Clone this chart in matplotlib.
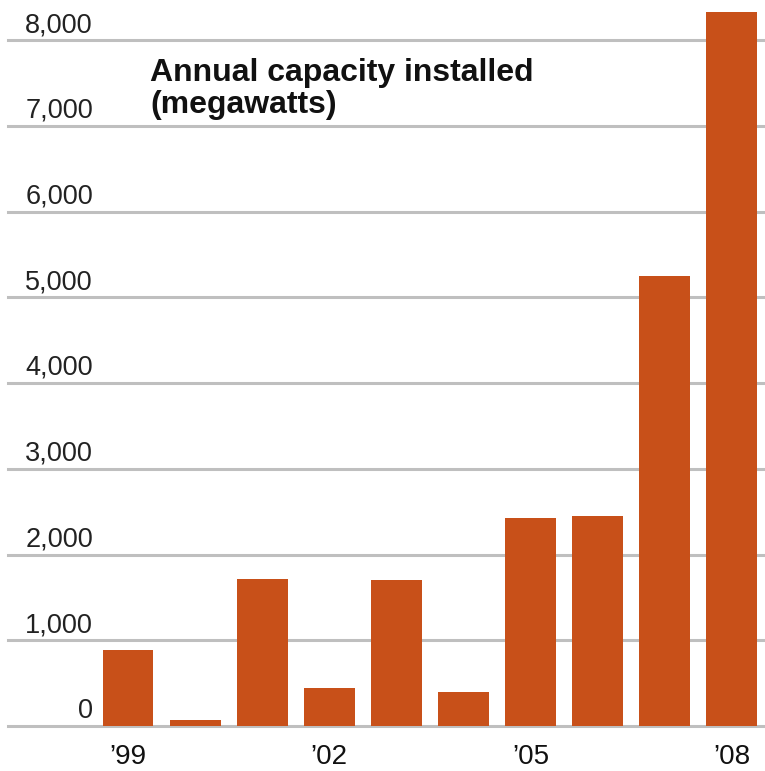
import matplotlib
matplotlib.use("Agg")
import matplotlib.pyplot as plt
import matplotlib.transforms as mtransforms

years = ["1999", "2000", "2001", "2002", "2003", "2004", "2005", "2006", "2007", "2008"]
capacity_mw = [887, 70, 1715, 447, 1704, 393, 2427, 2450, 5243, 8323]
xtick_labels = ["\u201999", "", "", "\u201902", "", "", "\u201905", "", "", "\u201908"]
ytick_values = [0, 1000, 2000, 3000, 4000, 5000, 6000, 7000, 8000]
ytick_labels = ["0", "1,000", "2,000", "3,000", "4,000", "5,000", "6,000", "7,000", "8,000"]
title_lines = ["Annual capacity installed", "(megawatts)"]

BAR = "#C85019"
GRID = "#BFBFBF"
plt.rcParams["font.family"] = ["Liberation Sans", "DejaVu Sans"]

W, H = 765, 771
fig = plt.figure(figsize=(W / 100, H / 100), dpi=100)
x0, y0 = 8, 726  # pixel positions of axes left and zero line
ax = fig.add_axes([x0 / W, (H - y0) / H, (W - x0) / W, y0 / H])

px_per_k = 85.75
xs = list(range(len(years)))
ax.set_ylim(0, y0 / px_per_k * 1000)
step = 67.1
ax.set_xlim(-(128 - x0) / step, (W - 128) / step)

for v in ytick_values:
    ax.axhline(v, color=GRID, lw=2.2, zorder=0, clip_on=False)

ax.bar(xs, capacity_mw, width=0.76, color=BAR, zorder=2)

for s in ax.spines.values():
    s.set_visible(False)
ax.set_yticks([])
ax.set_xticks(xs)
ax.set_xticklabels(xtick_labels, fontsize=20, color="#111111")
ax.tick_params(axis="x", length=0, pad=13)

trans = mtransforms.blended_transform_factory(ax.transAxes, ax.transData)
trans = mtransforms.offset_copy(trans, fig=fig, x=0, y=2, units="dots")
for v, lab in zip(ytick_values, ytick_labels):
    ax.text((93 - x0) / (W - x0), v, lab, transform=trans, ha="right", va="bottom",
            fontsize=19.5, color="#222222")

fig.text(150 / W, 1 - 81 / H, title_lines[0], fontsize=23, fontweight="bold",
         ha="left", va="baseline", color="#111111")
fig.text(150 / W, 1 - 113 / H, title_lines[1], fontsize=23, fontweight="bold",
         ha="left", va="baseline", color="#111111")

fig.savefig("out.png", dpi=100)
